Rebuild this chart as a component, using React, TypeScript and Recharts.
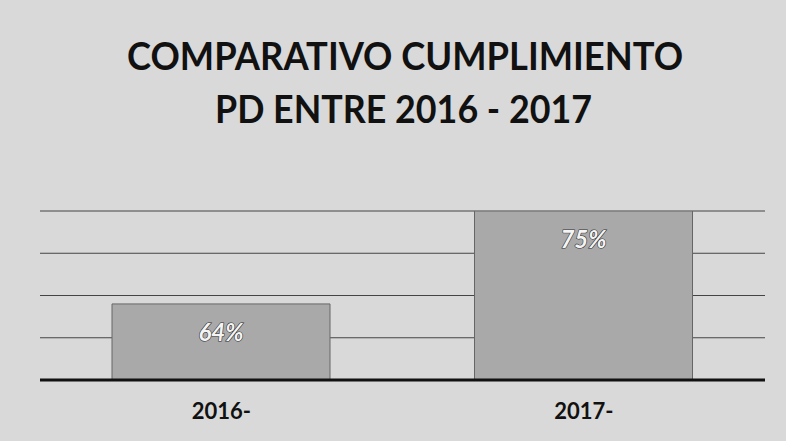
import React from "react";
import { BarChart, Bar, XAxis, YAxis, CartesianGrid, LabelList } from "recharts";

const categories = ["2016-", "2017-"];
const cumplimiento = [64, 75];
const yTicks = [55, 60, 65, 70, 75];
const titleLines = ["COMPARATIVO CUMPLIMIENTO", "PD ENTRE 2016 - 2017"];

const data = categories.map((c, i) => ({ name: c, value: cumplimiento[i] }));

const FONT = "Lato, 'Open Sans', 'DejaVu Sans', sans-serif";

export default function App() {
  return (
    <div
      style={{
        position: "absolute",
        left: 0,
        top: 0,
        width: 786,
        height: 441,
        background: "#d9d9d9",
        overflow: "hidden",
      }}
    >
      <svg width={786} height={441} style={{ position: "absolute", left: 0, top: 0 }}>
        <text
          x={127}
          y={70}
          textLength={556}
          lengthAdjust="spacingAndGlyphs"
          fontFamily={FONT}
          fontWeight={700}
          fontSize={38}
          fill="#111"
        >
          {titleLines[0]}
        </text>
        <text
          x={215}
          y={123}
          textLength={377}
          lengthAdjust="spacingAndGlyphs"
          fontFamily={FONT}
          fontWeight={700}
          fontSize={38}
          fill="#111"
        >
          {titleLines[1]}
        </text>
      </svg>
      <div style={{ position: "absolute", left: 0, top: 0 }}>
        <BarChart
          width={786}
          height={441}
          data={data}
          margin={{ top: 211, right: 21, bottom: 21, left: 40 }}
          barSize={218}
        >
          <CartesianGrid vertical={false} stroke="#444" strokeWidth={1} />
          <YAxis hide domain={[55, 75]} ticks={yTicks} allowDataOverflow />
          <XAxis
            dataKey="name"
            height={40}
            axisLine={{ stroke: "#111", strokeWidth: 3 }}
            tickLine={false}
            tick={{ fill: "#111", fontSize: 22, fontWeight: 700, fontFamily: FONT }}
            tickMargin={17}
          />
          <Bar
            dataKey="value"
            fill="#a9a9a9"
            stroke="#666"
            strokeWidth={1}
            isAnimationActive={false}
          >
            <LabelList
              dataKey="value"
              position="insideTop"
              offset={20}
              formatter={(v: number) => `${v}%`}
              style={{
                fill: "#f4f4f4",
                stroke: "#333",
                strokeWidth: 1.2,
                paintOrder: "stroke",
                fontSize: 24,
                fontWeight: 700,
                fontStyle: "italic",
                fontFamily: FONT,
              }}
            />
          </Bar>
        </BarChart>
      </div>
    </div>
  );
}
